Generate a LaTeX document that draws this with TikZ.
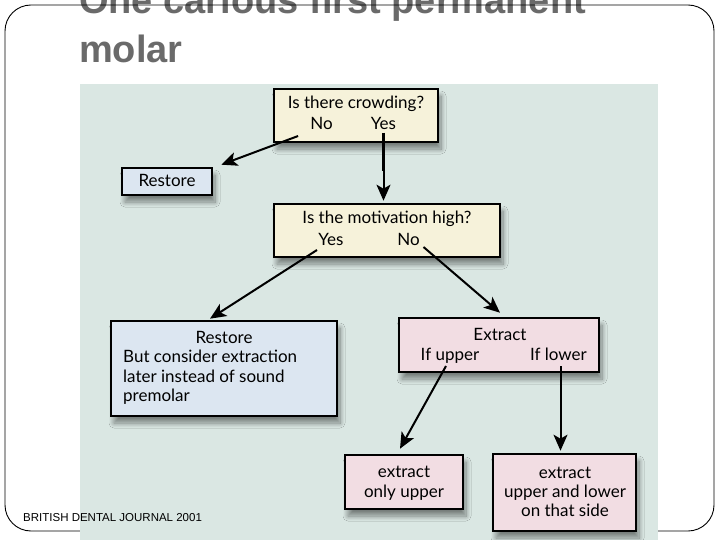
\documentclass[tikz,border=0pt]{standalone}
\usepackage{fontspec}
\setmainfont{Lato}
\newfontfamily\arialfont{Liberation Sans}
\usetikzlibrary{arrows.meta,shadows.blur}
\definecolor{panelbg}{HTML}{DAE7E3}
\definecolor{cream}{HTML}{F6F2DA}
\definecolor{paleblue}{HTML}{DCE6F1}
\definecolor{palepink}{HTML}{F2DDE3}
\definecolor{titlegray}{HTML}{6A6A6A}
\tikzset{
  box/.style={draw=black, line width=2.6pt, inner sep=0pt,
    blur shadow={shadow xshift=3pt, shadow yshift=-7pt, shadow opacity=45, shadow blur radius=5pt, shadow blur steps=10}},
  txt/.style={inner sep=0pt, font=\fontsize{17}{20}\selectfont, text=black},
  arr/.style={line width=2pt, -{Stealth[length=16pt,width=14pt,inset=4pt]}},
}
\begin{document}
\begin{tikzpicture}[x=1pt,y=-1pt]
\useasboundingbox (0,0) rectangle (720,540);
\clip (0,0) rectangle (720,540);
% title
\node[anchor=base west, inner sep=0pt, text=titlegray, font=\arialfont\bfseries\fontsize{38}{40}\selectfont] (t1) at (79,14) {One carious first permanent};
\node[anchor=base west, inner sep=0pt, text=titlegray, font=\arialfont\bfseries\fontsize{38}{40}\selectfont] (t2) at (79,63) {molar};
% slide frame
\draw[line width=0.9pt, rounded corners=26pt] (5,5) rectangle (714,531);
% panel
\fill[panelbg] (80,84) rectangle (658,540);
% boxes
\node[box, fill=cream, minimum width=164pt, minimum height=53pt] (q1) at (356,115.5) {};
\node[box, fill=paleblue, minimum width=90pt, minimum height=27pt] (r1) at (167,181.5) {};
\node[box, fill=cream, minimum width=226pt, minimum height=53pt] (q2) at (387,230.5) {};
\node[box, fill=paleblue, minimum width=226pt, minimum height=95pt] (r2) at (224,368.5) {};
\node[box, fill=palepink, minimum width=200pt, minimum height=54pt] (e) at (499,345) {};
\node[box, fill=palepink, minimum width=118pt, minimum height=54pt] (u) at (404,482) {};
\node[box, fill=palepink, minimum width=143pt, minimum height=77pt] (l) at (564.5,492.5) {};
% texts
\node[txt, anchor=base] (q1t) at (356,109) {Is there crowding?};
\node[txt, anchor=base] (q1no) at (321.5,130) {No};
\node[txt, anchor=base] (q1yes) at (383.5,130) {Yes};
\node[txt, anchor=base] (r1t) at (167,187) {Restore};
\node[txt, anchor=base] (q2t) at (387,224) {Is the motivation high?};
\node[txt, anchor=base] (q2yes) at (331,245) {Yes};
\node[txt, anchor=base] (q2no) at (408.5,245) {No};
\node[txt, anchor=base] (r2t) at (224,343) {Restore};
\node[txt, anchor=base west] (r2a) at (123,362) {But consider extraction};
\node[txt, anchor=base west] (r2b) at (123,382) {later instead of sound};
\node[txt, anchor=base west] (r2c) at (123,401) {premolar};
\node[txt, anchor=base] (et) at (500,340) {Extract};
\node[txt, anchor=base] (eup) at (450,360) {If upper};
\node[txt, anchor=base] (elow) at (558.5,360) {If lower};
\node[txt, anchor=base] (ua) at (404,477) {extract};
\node[txt, anchor=base] (ub) at (404,497) {only upper};
\node[txt, anchor=base] (la) at (565,478) {extract};
\node[txt, anchor=base] (lb) at (565,497) {upper and lower};
\node[txt, anchor=base] (lc) at (565,516) {on that side};
% footer
\node[anchor=base west, inner sep=0pt, font=\arialfont\fontsize{11.5}{13}\selectfont] (foot) at (23,521) {BRITISH DENTAL JOURNAL 2001};
% connectors
\draw[arr] ([xshift=-12pt,yshift=-6pt]q1no.base west) -- ([xshift=8pt,yshift=2pt]r1.north east);
\draw[arr, shorten >=1pt] ([yshift=-3pt]q1yes.base) -- ([yshift=1pt]q2.north -| q1yes.base);
\draw[line width=3.4pt] ([yshift=-3pt]q1yes.base) -- ++(0,38);
\draw[arr] ([xshift=-14pt,yshift=-5pt]q2yes.base) -- ([xshift=-14pt,yshift=1pt]r2.north);
\draw[arr] ([xshift=15pt,yshift=-2pt]q2no.base) -- ([xshift=1pt,yshift=4pt]e.north);
\draw[arr] ([xshift=-4pt,yshift=-6pt]eup.base) -- ([xshift=-4pt,yshift=5pt]u.north);
\draw[arr] ([xshift=2pt,yshift=-6pt]elow.base) -- ([xshift=2pt,yshift=2pt]elow.base |- l.north);
\end{tikzpicture}
\end{document}
